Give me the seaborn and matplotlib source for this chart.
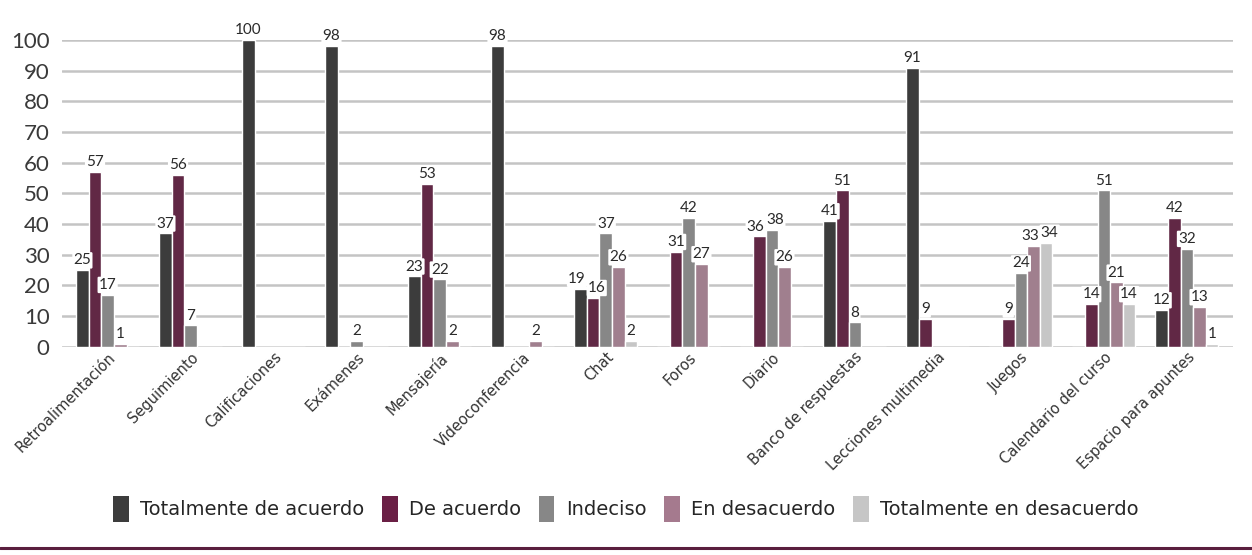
import pandas as pd
import matplotlib.pyplot as plt
import matplotlib.lines as mlines
import seaborn as sns

categorias = ["Retroalimentación", "Seguimiento", "Calificaciones", "Exámenes",
              "Mensajería", "Videoconferencia", "Chat", "Foros", "Diario",
              "Banco de respuestas", "Lecciones multimedia", "Juegos",
              "Calendario del curso", "Espacio para apuntes"]
niveles = ["Totalmente de acuerdo", "De acuerdo", "Indeciso",
           "En desacuerdo", "Totalmente en desacuerdo"]

totalmente_de_acuerdo = [25, 37, 100, 98, 23, 98, 19, 0, 0, 41, 91, 0, 0, 12]
de_acuerdo = [57, 56, 0, 0, 53, 0, 16, 31, 36, 51, 9, 9, 14, 42]
indeciso = [17, 7, 0, 2, 22, 0, 37, 42, 38, 8, 0, 24, 51, 32]
en_desacuerdo = [1, 0, 0, 0, 2, 2, 26, 27, 26, 0, 0, 33, 21, 13]
totalmente_en_desacuerdo = [0, 0, 0, 0, 0, 0, 2, 0, 0, 0, 0, 34, 14, 1]

colores = ["#3c3c3c", "#6a1f45", "#878787", "#a57a8e", "#c6c6c6"]

series = [totalmente_de_acuerdo, de_acuerdo, indeciso, en_desacuerdo,
          totalmente_en_desacuerdo]
filas = []
for nivel, valores in zip(niveles, series):
    for cat, v in zip(categorias, valores):
        filas.append({"categoria": cat, "nivel": nivel, "valor": v})
df = pd.DataFrame(filas)

sns.set_style("white")
plt.rcParams["font.family"] = ["Lato", "DejaVu Sans"]

fig = plt.figure(figsize=(12.52, 5.55), dpi=100)
ax = fig.add_axes([0.0495, 0.375, 0.935, 0.553])

sns.barplot(data=df, x="categoria", y="valor", hue="nivel",
            order=categorias, hue_order=niveles, palette=colores,
            width=0.76, edgecolor="white", linewidth=1.0, ax=ax,
            legend=False, zorder=3)

ax.set_ylim(0, 100)
ax.set_xlim(-0.55, len(categorias) - 0.45)
ax.set_yticks(range(0, 101, 10))
ax.yaxis.grid(True, color="#c4c4c4", linewidth=1.8, zorder=0)
ax.set_axisbelow(True)
for s in ax.spines.values():
    s.set_visible(False)
ax.tick_params(axis="y", length=0, labelsize=16, colors="#3a3a3a", pad=9)
ax.tick_params(axis="x", length=0, pad=2)
ax.set_xlabel("")
ax.set_ylabel("")
ax.set_xticks(range(len(categorias)))
ax.set_xticklabels(categorias, rotation=45, ha="right", rotation_mode="anchor",
                   fontsize=10.5, color="#333333", family="DejaVu Sans")

# etiquetas de valor (los ceros no se rotulan)
grupos = {}
for cont in ax.containers:
    for i, bar in enumerate(cont):
        h = bar.get_height()
        if h <= 0:
            continue
        ann = ax.annotate(f"{h:.0f}", (bar.get_x() + bar.get_width() / 2, h),
                          xytext=(0, 2), textcoords="offset points",
                          ha="center", va="bottom", fontsize=11,
                          color="#2a2a2a", zorder=5,
                          bbox=dict(boxstyle="round,pad=0.08", fc="white",
                                    ec="none"))
        grupos.setdefault(i, []).append(ann)

# separar etiquetas vecinas que se pisan
fig.canvas.draw()
r = fig.canvas.get_renderer()
px2pt = 72 / fig.dpi
for anns in grupos.values():
    for a, b in zip(anns[:-1], anns[1:]):
        ea = a.get_window_extent(r)
        eb = b.get_window_extent(r)
        if ea.y1 > eb.y0 and eb.y1 > ea.y0 and ea.x1 > eb.x0:
            d = (ea.x1 - eb.x0) / 2 + 1
            a.xyann = (a.xyann[0] - d * px2pt, a.xyann[1])
            b.xyann = (b.xyann[0] + d * px2pt, b.xyann[1])
            fig.canvas.draw()

handles = [plt.Rectangle((0, 0), 1, 1, fc=c, ec="none") for c in colores]
fig.legend(handles, niveles, loc="center", bbox_to_anchor=(0.5, 0.083),
           ncol=5, frameon=False, handlelength=0.8,
           handleheight=1.7, handletextpad=0.6, columnspacing=0.9,
           prop={"family": "DejaVu Sans", "size": 14})

fig.add_artist(mlines.Line2D([0, 1], [0.012, 0.012], color="#5a1e3e",
                             linewidth=2.2, transform=fig.transFigure))

fig.savefig("out.png", dpi=100)
